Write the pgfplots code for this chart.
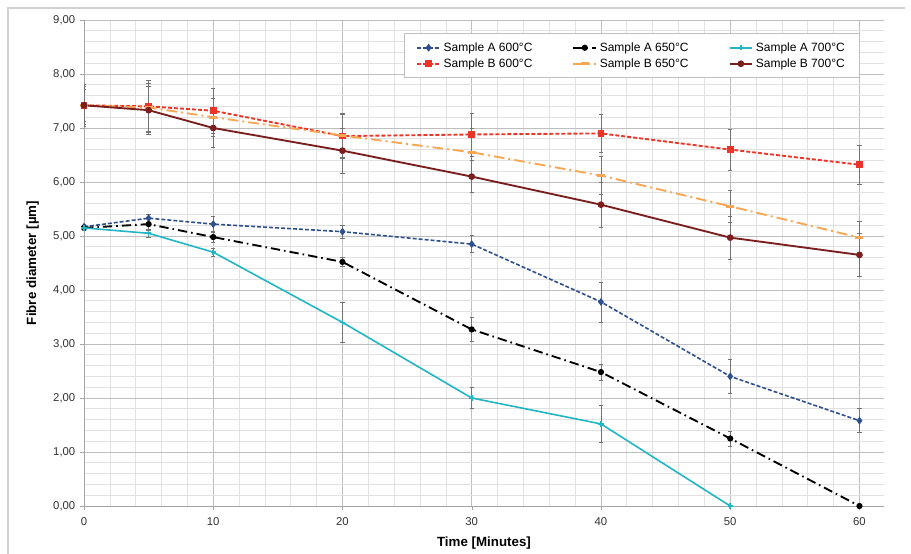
\documentclass[border=0pt]{standalone}
\usepackage{fontspec}
\setmainfont{Liberation Sans}
\usepackage{pgfplots}
\pgfplotsset{compat=1.18}
\usetikzlibrary{calc}

\definecolor{aBlue}{RGB}{47,80,140}
\definecolor{aCyan}{RGB}{34,181,196}
\definecolor{bRed}{RGB}{236,52,40}
\definecolor{bOrange}{RGB}{247,166,84}
\definecolor{bDark}{RGB}{122,30,30}
\definecolor{gridmaj}{RGB}{190,190,190}
\definecolor{gridmin}{RGB}{225,225,225}

\begin{document}
\begin{tikzpicture}
\begin{axis}[
    name=ax,
    scale only axis,
    width=600pt, height=364.5pt,
    xmin=0, xmax=61.9,
    ymin=0, ymax=9,
    xtick={0,10,...,60},
    ytick={0,1,...,9},
    minor x tick num=4,
    minor y tick num=4,
    grid=both,
    major grid style={gridmaj, line width=0.6pt},
    minor grid style={gridmin, line width=0.5pt},
    axis lines*=left,
    axis line style={gray!70, line width=0.6pt},
    tick align=outside,
    major tick length=3pt,
    minor tick length=0pt,
    tick style={gray!70},
    /pgf/number format/assume math mode=true,
    yticklabel style={/pgf/number format/.cd, fixed, fixed zerofill, precision=2, use comma},
    tick label style={font=\fontsize{8.5}{9}\selectfont, text=black!80},
    xticklabel style={yshift=-2pt},
    xlabel={\textbf{Time [Minutes]}},
    ylabel={\textbf{Fibre diameter [µm]}},
    label style={font=\fontsize{7.6}{9}\selectfont},
    every axis x label/.style={at={(axis description cs:0.5,-0.076)}, anchor=center},
    every axis y label/.style={at={(axis description cs:-0.064,0.5)}, anchor=center, rotate=90},
    legend columns=3,
    legend cell align=left,
    legend style={at={(rel axis cs:0.97,0.973)}, anchor=north east,
        font=\fontsize{9}{11.5}\selectfont, draw=gray!50, line width=0.9pt,
        inner xsep=9pt, inner ysep=4.5pt,
        /tikz/every even column/.append style={column sep=28pt}},
    error bars/y dir=both,
    error bars/y explicit,
    error bars/error bar style={black!55, line width=0.5pt, solid},
    error bars/error mark options={black!55, mark size=1.6pt, line width=0.5pt, solid, rotate=90},
  ]

  % Sample A 600 C
  \addplot[aBlue, line width=1.2pt, dash pattern=on 3pt off 1.5pt,
    mark=diamond*, mark size=2pt, mark options={solid}] coordinates {
    (0,5.17) +- (0,0.05)
    (5,5.33) +- (0,0.08)
    (10,5.22) +- (0,0.15)
    (20,5.08) +- (0,0.12)
    (30,4.85) +- (0,0.16)
    (40,3.78) +- (0,0.37)
    (50,2.40) +- (0,0.32)
    (60,1.58) +- (0,0.22)
  };
  \addlegendentry{Sample A 600°C}

  % Sample A 650 C
  \addplot[black, line width=1.4pt, dash pattern=on 7pt off 3pt on 1.2pt off 3pt,
    mark=*, mark size=1.6pt, mark options={solid}] coordinates {
    (0,5.15) +- (0,0.04)
    (5,5.22) +- (0,0.12)
    (10,4.98) +- (0,0.10)
    (20,4.52) +- (0,0.08)
    (30,3.27) +- (0,0.22)
    (40,2.48) +- (0,0.15)
    (50,1.25) +- (0,0.14)
    (60,0.00) +- (0,0.00)
  };
  \addlegendentry{Sample A 650°C}

  % Sample A 700 C
  \addplot[aCyan, line width=1.2pt, mark=+, mark size=2pt, mark options={solid}] coordinates {
    (0,5.15) +- (0,0.05)
    (5,5.05) +- (0,0.07)
    (10,4.70) +- (0,0.08)
    (20,3.40) +- (0,0.37)
    (30,2.00) +- (0,0.20)
    (40,1.52) +- (0,0.35)
    (50,0.00) +- (0,0.00)
  };
  \addlegendentry{Sample A 700°C}

  % Sample B 600 C
  \addplot[bRed, line width=1.4pt, dash pattern=on 3pt off 1.5pt,
    mark=square*, mark size=1.8pt, mark options={solid}] coordinates {
    (0,7.42) +- (0,0.38)
    (5,7.40) +- (0,0.48)
    (10,7.32) +- (0,0.42)
    (20,6.85) +- (0,0.42)
    (30,6.88) +- (0,0.40)
    (40,6.90) +- (0,0.35)
    (50,6.60) +- (0,0.38)
    (60,6.32) +- (0,0.36)
  };
  \addlegendentry{Sample B 600°C}

  % Sample B 650 C
  \addplot[bOrange, line width=1.4pt, dash pattern=on 8pt off 3pt on 1.5pt off 3pt,
    mark=-, mark size=3pt, mark options={solid, line width=2pt}] coordinates {
    (0,7.42) +- (0,0.30)
    (5,7.38) +- (0,0.45)
    (10,7.20) +- (0,0.35)
    (20,6.86) +- (0,0.40)
    (30,6.55) +- (0,0.45)
    (40,6.12) +- (0,0.35)
    (50,5.55) +- (0,0.30)
    (60,4.97) +- (0,0.30)
  };
  \addlegendentry{Sample B 650°C}

  % Sample B 700 C
  \addplot[bDark, line width=1.4pt, mark=*, mark size=1.8pt] coordinates {
    (0,7.42) +- (0,0.35)
    (5,7.33) +- (0,0.45)
    (10,7.00) +- (0,0.35)
    (20,6.58) +- (0,0.42)
    (30,6.10) +- (0,0.30)
    (40,5.58) +- (0,0.42)
    (50,4.97) +- (0,0.40)
    (60,4.65) +- (0,0.40)
  };
  \addlegendentry{Sample B 700°C}

\end{axis}
\pgfresetboundingbox
\useasboundingbox ($(ax.south west)+(-63pt,-35.25pt)$) rectangle ($(ax.north east)+(20.25pt,15pt)$);
\draw[gray!35, line width=1.2pt] ($(ax.south west)+(-57pt,-40pt)$) -- ($(ax.north west)+(-57pt,9pt)$) -- ($(ax.north east)+(16pt,9pt)$);
\end{tikzpicture}
\end{document}
